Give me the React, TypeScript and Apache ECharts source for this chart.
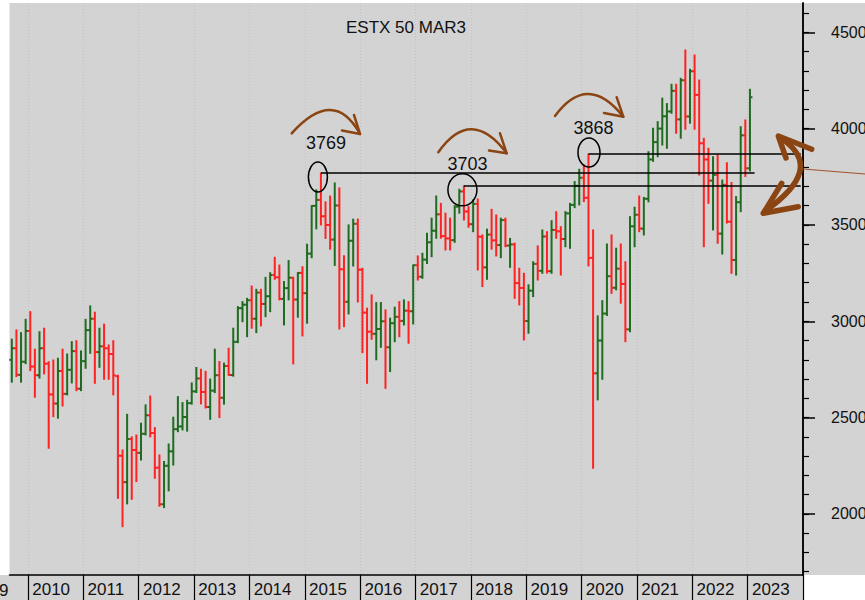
import React, { useEffect, useRef } from 'react';
import * as echarts from 'echarts';

// Months on the category axis: Sep 2009 .. Dec 2023
const firstYear = 2009;
const firstMonth = 9;
const monthCount = 172;
const months: string[] = [];
for (let k = 0; k < monthCount; k++) {
  const m = firstMonth - 1 + k;
  const y = firstYear + Math.floor(m / 12);
  months.push(`${y}-${String((m % 12) + 1).padStart(2, '0')}`);
}

// Monthly OHLC (Sep 2009 .. Jan 2023)
const opens = [
  2800, 2860, 2722, 2790,
  2950, 2765, 2720, 2860, 2780, 2620, 2573, 2742, 2623, 2748, 2845, 2650,
  2793, 2954, 3013, 2840, 2870, 2860, 2830, 2715, 2302, 2165, 2389, 2332,
  2317, 2416, 2512, 2420, 2240, 2050, 2250, 2325, 2440, 2454, 2503, 2575,
  2636, 2703, 2633, 2555, 2640, 2720, 2603, 2768, 2721, 2893, 3068, 3086,
  3109, 3013, 3149, 3090, 3130, 3240, 3228, 3116, 3172, 3226, 3113, 3251,
  3146, 3351, 3599, 3630, 3545, 3500, 3424, 3601, 3270, 3101, 3418, 3506,
  3268, 3045, 2946, 2935, 2960, 3000, 2865, 2990, 3023, 3002, 3055, 3052,
  3291, 3231, 3320, 3410, 3470, 3555, 3442, 3430, 3421, 3595, 3674, 3570,
  3504, 3609, 3439, 3280, 3450, 3420, 3396, 3525, 3393, 3399, 3198, 3173,
  3001, 3159, 3298, 3262, 3440, 3260, 3474, 3467, 3427, 3560, 3604, 3703,
  3745, 3641, 3329, 2730, 2900, 3040, 3234, 3174, 3273, 3194, 2958, 3493,
  3553, 3481, 3636, 3840, 3930, 4000, 4064, 4089, 4196, 4048, 4251, 4063,
  4298, 4175, 3924, 3840, 3730, 3760, 3455, 3708, 3517, 3318, 3618, 3965,
  3794,
];
const highs = [
  2907, 2955, 2941, 3010,
  3050, 2855, 2946, 2964, 2790, 2799, 2808, 2855, 2830, 2894, 2899, 2846,
  3010, 3080, 3047, 2964, 2985, 2877, 2899, 2720, 2332, 2517, 2400, 2410,
  2471, 2566, 2612, 2448, 2306, 2272, 2363, 2502, 2609, 2578, 2590, 2680,
  2760, 2751, 2740, 2700, 2855, 2791, 2783, 2860, 2964, 3076, 3102, 3119,
  3183, 3166, 3166, 3228, 3252, 3332, 3292, 3206, 3315, 3228, 3252, 3283,
  3400, 3600, 3682, 3769, 3620, 3650, 3718, 3692, 3340, 3500, 3530, 3530,
  3275, 3068, 3137, 3097, 3097, 3059, 3016, 3073, 3102, 3111, 3102, 3292,
  3339, 3353, 3457, 3535, 3650, 3612, 3561, 3535, 3600, 3685, 3703, 3595,
  3630, 3635, 3448, 3478, 3581, 3552, 3535, 3535, 3430, 3405, 3275, 3249,
  3189, 3309, 3391, 3474, 3465, 3522, 3569, 3491, 3569, 3612, 3725, 3789,
  3811, 3868, 3474, 3028, 3107, 3401, 3448, 3379, 3401, 3309, 3543, 3592,
  3650, 3643, 3880, 4002, 4036, 4158, 4130, 4230, 4230, 4261, 4408, 4308,
  4382, 4252, 3950, 3898, 3854, 3863, 3733, 3823, 3720, 3647, 4010, 4045,
  4204,
];
const lows = [
  2684, 2713, 2684, 2780,
  2744, 2606, 2705, 2727, 2341, 2505, 2497, 2560, 2618, 2680, 2640, 2640,
  2756, 2834, 2678, 2761, 2699, 2699, 2618, 2081, 1934, 2052, 2076, 2168,
  2280, 2410, 2400, 2185, 2040, 2033, 2120, 2254, 2427, 2436, 2430, 2570,
  2630, 2571, 2550, 2491, 2630, 2500, 2570, 2720, 2715, 2889, 2998, 2920,
  2964, 2941, 2976, 3024, 3050, 3218, 3111, 2981, 3111, 2779, 3021, 2924,
  2990, 3330, 3480, 3500, 3430, 3374, 3290, 2960, 2972, 3038, 3287, 3100,
  2837, 2678, 2907, 2800, 2865, 2652, 2739, 2894, 2920, 2981, 2886, 2986,
  3214, 3223, 3300, 3335, 3431, 3431, 3370, 3370, 3410, 3561, 3526, 3488,
  3465, 3266, 3180, 3218, 3374, 3339, 3330, 3387, 3280, 3119, 3085, 2903,
  2938, 3128, 3214, 3249, 3250, 3249, 3431, 3240, 3387, 3379, 3590, 3604,
  3621, 3287, 2237, 2592, 2699, 3030, 3145, 3163, 3094, 2894, 2946, 3387,
  3465, 3448, 3620, 3830, 3854, 3915, 3898, 4080, 3976, 3950, 3997, 4028,
  3997, 3759, 3387, 3612, 3474, 3405, 3349, 3510, 3249, 3240, 3569, 3752,
  3780,
];
const closes = [
  2860, 2722, 2790, 2950,
  2765, 2720, 2860, 2780, 2620, 2573, 2742, 2623, 2748, 2845, 2650, 2793,
  2954, 3013, 2840, 2870, 2860, 2830, 2719, 2302, 2165, 2389, 2332, 2317,
  2416, 2512, 2420, 2240, 2050, 2250, 2325, 2440, 2454, 2503, 2575, 2636,
  2703, 2633, 2555, 2640, 2720, 2603, 2768, 2721, 2893, 3068, 3086, 3109,
  3013, 3149, 3090, 3130, 3240, 3228, 3116, 3172, 3226, 3113, 3251, 3146,
  3351, 3599, 3630, 3545, 3500, 3424, 3601, 3270, 3101, 3418, 3506, 3268,
  3045, 2946, 2935, 2960, 3000, 2865, 2990, 3023, 3002, 3055, 3052, 3291,
  3231, 3320, 3410, 3470, 3555, 3442, 3430, 3421, 3595, 3674, 3570, 3504,
  3609, 3439, 3280, 3450, 3420, 3396, 3525, 3393, 3399, 3198, 3173, 3001,
  3159, 3298, 3262, 3440, 3260, 3474, 3467, 3427, 3560, 3604, 3703, 3745,
  3641, 3329, 2730, 2900, 3040, 3234, 3174, 3273, 3194, 2958, 3493, 3553,
  3481, 3636, 3840, 3930, 4000, 4064, 4089, 4196, 4048, 4251, 4063, 4298,
  4175, 3924, 3840, 3730, 3760, 3455, 3708, 3517, 3318, 3618, 3965, 3794,
  4163,
];

// Right axis ticks
const yMajorTicks = [2000, 2500, 3000, 3500, 4000, 4500];
const yMinorTicks = [1700, 1800, 1900, 2000, 2100, 2200, 2300, 2400, 2500, 2600, 2700, 2800, 2900, 3000,
  3100, 3200, 3300, 3400, 3500, 3600, 3700, 3800, 3900, 4000, 4100, 4200, 4300, 4400, 4500, 4600];

// Annotated peaks
const peakMonths = ['2015-04', '2017-11', '2020-02'];
const peakValues = [3769, 3703, 3868];
const peakLabels = ['3769', '3703', '3868'];
const lineEndMonths = ['2023-02', '2023-12', '2023-12'];

const FONT = '"Liberation Sans", Arial, sans-serif';
const GREEN = '#1f6b1f';
const RED = '#ff2222';
const BROWN = '#8B4513';
const BG = '#d3d3d3';

const isJan = (_i: number, v: string) => typeof v === 'string' && v.endsWith('-01');

export default function App() {
  const ref = useRef<HTMLDivElement>(null);
  useEffect(() => {
    document.body.style.margin = '0';
    const chart = echarts.init(ref.current!, undefined, { renderer: 'svg' });
    const data = opens.map((o, i) => [i, o, highs[i], lows[i], closes[i]]);
    chart.setOption({
      animation: false,
      title: {
        text: 'ESTX 50 MAR3', left: 341, top: 14,
        textStyle: { fontSize: 17, fontWeight: 'normal', color: '#111', fontFamily: FONT },
      },
      grid: { left: 9.5, right: 62, top: 3, bottom: 25, containLabel: false, outerBoundsMode: 'none' },
      xAxis: {
        type: 'category', data: months, boundaryGap: true,
        axisLine: { show: true, lineStyle: { color: '#000', width: 1.5 } },
        axisTick: { show: true, interval: isJan, length: 25, lineStyle: { color: '#000', width: 1.2 } },
        axisLabel: {
          show: true, interval: isJan, formatter: (v: string) => v.slice(0, 4), align: 'left',
          margin: 6, fontSize: 17, color: '#111', fontFamily: FONT, padding: [0, 0, 0, 2],
        },
        splitLine: { show: true, interval: isJan, lineStyle: { color: '#c2c2c2', type: [1, 2], width: 1 } },
      },
      yAxis: [
        {
          type: 'value', position: 'right', min: 1683, max: 4652,
          axisLine: { show: true, onZero: false, lineStyle: { color: '#000', width: 1.5 } },
          axisTick: { show: true, length: 12, customValues: yMajorTicks, lineStyle: { color: '#000', width: 1.5 } },
          axisLabel: {
            show: true, customValues: yMajorTicks, margin: 28, fontSize: 16, color: '#111',
            fontFamily: FONT, padding: [5, 0, 0, 0], formatter: (v: number) => String(v),
          },
          splitLine: { show: false },
        },
        {
          type: 'value', position: 'right', min: 1683, max: 4652,
          axisLine: { show: true, onZero: false, lineStyle: { color: '#000', width: 1.5 } },
          axisTick: { show: true, length: 6, customValues: yMinorTicks, lineStyle: { color: '#000', width: 1.2 } },
          axisLabel: { show: false },
          splitLine: { show: false },
        },
      ],
      series: [
        {
          type: 'custom', xAxisIndex: 0, yAxisIndex: 0, z: 3,
          encode: { x: 0, y: [1, 2, 3, 4] },
          data,
          renderItem: (_params: any, api: any) => {
            const i = api.value(0);
            const o = api.coord([i, api.value(1)]);
            const h = api.coord([i, api.value(2)]);
            const l = api.coord([i, api.value(3)]);
            const c = api.coord([i, api.value(4)]);
            const color = api.value(4) >= api.value(1) ? GREEN : RED;
            const x = h[0];
            const st = { stroke: color, lineWidth: 2 };
            return {
              type: 'group',
              children: [
                { type: 'line', shape: { x1: x, y1: h[1] - 0.5, x2: x, y2: l[1] + 0.5 }, style: st },
                { type: 'line', shape: { x1: x - 2.5, y1: o[1], x2: x, y2: o[1] }, style: st },
                { type: 'line', shape: { x1: x, y1: c[1], x2: x + 2.5, y2: c[1] }, style: st },
              ],
            };
          },
          markLine: {
            silent: true, symbol: ['none', 'none'], label: { show: false },
            lineStyle: { color: '#000', width: 1.5, type: 'solid' },
            data: peakMonths.map((m, k) => [
              { coord: [m, peakValues[k]] },
              { coord: [lineEndMonths[k], peakValues[k]] },
            ]),
          },
        },
      ],
    });

    const px = (m: string, v: number) => chart.convertToPixel({ gridIndex: 0 }, [m, v]) as number[];
    const ellipseOffsets = [[-3, 4, 9.5, 15], [-1.5, 4, 14.5, 16], [0.5, -1.5, 11, 14.5]];
    const labelOffsets = [[8, -34], [5, -26], [4.5, -25]];
    const elements: any[] = [
      { type: 'rect', z: -10, silent: true, shape: { x: 9.5, y: 3, width: 855.5, height: 572 }, style: { fill: BG } },
      { type: 'rect', z: -10, silent: true, shape: { x: 0, y: 575, width: 803.5, height: 25 }, style: { fill: BG } },
      { type: 'text', x: -1, y: 590, style: { text: '9', fontSize: 17, fontFamily: FONT, fill: '#111', align: 'left', verticalAlign: 'middle' } },
    ];
    peakMonths.forEach((m, k) => {
      const p = px(m, peakValues[k]);
      const [dx, dy, rx, ry] = ellipseOffsets[k];
      const cx = p[0] + dx;
      const cy = p[1] + dy;
      elements.push({ type: 'ellipse', z: 5, shape: { cx, cy, rx, ry }, style: { fill: 'none', stroke: '#000', lineWidth: 1.5 } });
      elements.push({
        type: 'text', z: 5, x: cx + labelOffsets[k][0], y: cy + labelOffsets[k][1],
        style: { text: peakLabels[k], fontSize: 18, fontFamily: FONT, fill: '#111', align: 'center', verticalAlign: 'middle' },
      });
    });
    // curved brown arrows above the peaks
    const arcs = [
      { s: [291.7, 133.3], c: [334, 86.4], e: [360, 134], a1: [354, 115], a2: [342, 130.5] },
      { s: [438.3, 152.3], c: [471, 105.8], e: [506.7, 153.3], a1: [500, 133.3], a2: [489, 150.5] },
      { s: [555, 116], c: [587.5, 71.6], e: [623.3, 116.7], a1: [616.7, 97.3], a2: [604, 113] },
    ];
    arcs.forEach((a) => {
      elements.push({
        type: 'bezierCurve', z: 6,
        shape: { x1: a.s[0], y1: a.s[1], x2: a.e[0], y2: a.e[1], cpx1: a.c[0], cpy1: a.c[1] },
        style: { stroke: BROWN, lineWidth: 2.5, fill: 'none', lineCap: 'round' },
      });
      elements.push({
        type: 'polyline', z: 6, shape: { points: [a.a1, a.e, a.a2] },
        style: { stroke: BROWN, lineWidth: 2.5, fill: 'none', lineCap: 'round', lineJoin: 'round' },
      });
    });
    // big double-headed arrow near the axis
    elements.push({
      type: 'bezierCurve', z: 7,
      shape: { x1: 782, y1: 139, x2: 765, y2: 211, cpx1: 826, cpy1: 168.5 },
      style: { stroke: BROWN, lineWidth: 5.5, fill: 'none', lineCap: 'round' },
    });
    elements.push({
      type: 'polyline', z: 7, shape: { points: [[811.7, 149.3], [778.3, 136], [786, 158]] },
      style: { stroke: BROWN, lineWidth: 5.5, fill: 'none', lineCap: 'round', lineJoin: 'round' },
    });
    elements.push({
      type: 'polyline', z: 7, shape: { points: [[781.7, 183.3], [763.3, 213.3], [798.3, 206.7]] },
      style: { stroke: BROWN, lineWidth: 5.5, fill: 'none', lineCap: 'round', lineJoin: 'round' },
    });
    elements.push({
      type: 'line', z: 7, shape: { x1: 803, y1: 169, x2: 865, y2: 174 },
      style: { stroke: '#a0522d', lineWidth: 1 },
    });
    chart.setOption({ graphic: { elements } });
    return () => chart.dispose();
  }, []);
  return <div ref={ref} style={{ width: 865, height: 600 }} />;
}
